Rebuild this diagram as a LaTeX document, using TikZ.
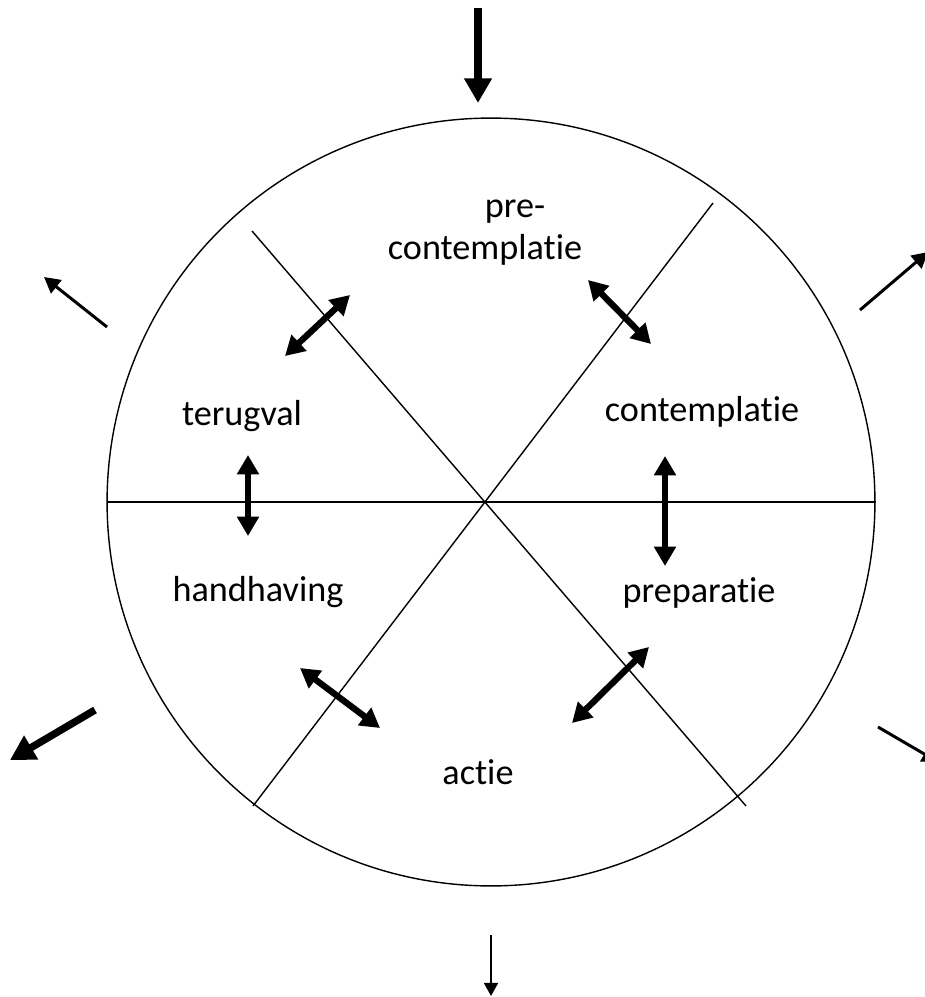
\documentclass[tikz,border=0pt]{standalone}
\usepackage{fontspec}
\setmainfont{Carlito}[Ligatures=NoCommon]
\usetikzlibrary{arrows.meta}
\tikzset{
  stage/.style={font=\fontsize{20.6}{26}\selectfont, inner sep=0pt},
  twoway/.style={{Triangle[length=11pt,width=12pt]}-{Triangle[length=11pt,width=12pt]}, line width=3.6pt},
  thickout/.style={-{Triangle[length=14pt,width=15pt]}, line width=4.2pt},
  thinout/.style={-{Triangle[length=9pt,width=9.5pt]}, line width=1.7pt},
}
\begin{document}
\begin{tikzpicture}[x=0.02cm,y=-0.02cm]
\useasboundingbox (0,0) rectangle (924,997);
% wheel
\coordinate (c) at (491,502);
\draw[line width=0.8pt] (c) circle[radius=7.68cm];
\draw[line width=0.8pt] (107,502) -- (876,502);
\draw[line width=0.8pt] (252,231) -- (746,806);
\draw[line width=0.8pt] (713,203) -- (253,806);
% stages
\node[stage] (pre) at (515,212) {pre-};
\node[stage] (precon) at (485,250) {contemplatie};
\node[stage] (con) at (702,412) {contemplatie};
\node[stage] (prep) at (699,593) {preparatie};
\node[stage] (act) at (478,772) {actie};
\node[stage] (hand) at (258,592) {handhaving};
\node[stage] (terug) at (242,416) {terugval};
% transitions
\coordinate (tl1) at (285,356); \coordinate (tl2) at (350,295);
\coordinate (tr1) at (588,280); \coordinate (tr2) at (651,344);
\coordinate (l1) at (248,455);  \coordinate (l2) at (248,536);
\coordinate (r1) at (665,456);  \coordinate (r2) at (665,566);
\coordinate (bl1) at (300,668); \coordinate (bl2) at (380,728);
\coordinate (br1) at (572,723); \coordinate (br2) at (649,647);
\draw[twoway] (tl1) -- (tl2);
\draw[twoway] (tr1) -- (tr2);
\draw[twoway] (l1) -- (l2);
\draw[twoway] (r1) -- (r2);
\draw[twoway] (bl1) -- (bl2);
\draw[twoway] (br1) -- (br2);
% in and out
\coordinate (in1) at (478,8);   \coordinate (in2) at (478,103);
\coordinate (o1a) at (107,327); \coordinate (o1b) at (44,277);
\coordinate (o2a) at (860,310); \coordinate (o2b) at (928,252);
\coordinate (o3a) at (95,710);  \coordinate (o3b) at (10,760);
\coordinate (o4a) at (878,727); \coordinate (o4b) at (938,762);
\coordinate (o5a) at (491,935); \coordinate (o5b) at (491,996);
\draw[thickout] (in1) -- (in2);
\draw[thinout] (o1a) -- (o1b);
\draw[thinout] (o2a) -- (o2b);
\draw[thickout] (o3a) -- (o3b);
\draw[thinout] (o4a) -- (o4b);
\draw[-{Triangle[length=7.5pt,width=8pt]}, line width=1.2pt] (o5a) -- (o5b);
\end{tikzpicture}
\end{document}
